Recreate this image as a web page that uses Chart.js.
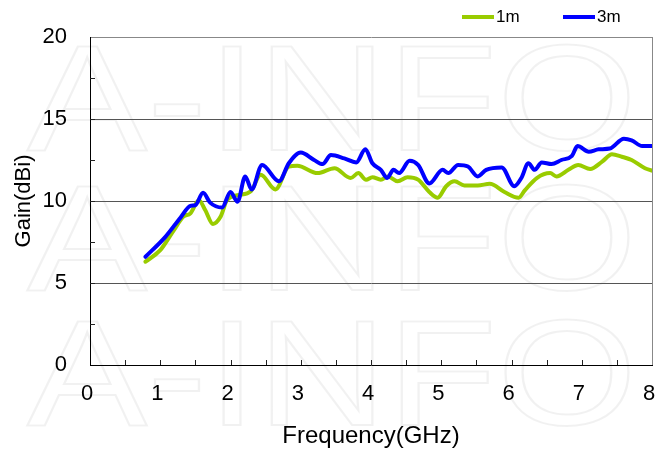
<!DOCTYPE html>
<html>
<head>
<meta charset="utf-8">
<script src="https://cdn.jsdelivr.net/npm/chart.js@4.4.1/dist/chart.umd.min.js"></script>
<style>
  html, body { margin: 0; padding: 0; background: #fff; }
  #wrap { width: 655px; height: 454px; }
</style>
</head>
<body>
<div id="wrap"><canvas id="chart-canvas" width="655" height="454"></canvas></div>
<script>
// data
const seriesNames = ['1m', '3m'];
const seriesColors = ['#99cc00', '#0000ff'];

const freq1m = [0.79, 1.0, 1.19, 1.33, 1.43, 1.55, 1.64, 1.75, 1.86, 1.95, 2.1, 2.29, 2.43, 2.64, 2.83, 2.95,
    3.24, 3.48, 3.71, 3.82, 3.93, 4.02, 4.14, 4.24, 4.38, 4.52, 4.67, 4.83, 4.95, 5.07, 5.19, 5.33, 5.52,
    5.69, 5.9, 6.1, 6.19, 6.36, 6.55, 6.64, 6.81, 6.95, 7.12, 7.29, 7.43, 7.57, 7.71, 7.9, 8.0];
const gain1m = [6.3, 7.0, 8.2, 9.05, 9.25, 10.05, 9.45, 8.6, 9.05, 10.05, 10.35, 10.6, 11.6, 10.7, 12.1, 12.15,
    11.7, 12.0, 11.4, 11.7, 11.3, 11.45, 11.3, 11.5, 11.2, 11.45, 11.3, 10.55, 10.2, 10.9, 11.2, 10.95, 10.95,
    11.05, 10.55, 10.2, 10.65, 11.4, 11.7, 11.5, 11.9, 12.2, 11.95, 12.4, 12.85, 12.7, 12.5, 12.0, 11.85];

const freq3m = [0.79, 1.07, 1.29, 1.43, 1.5, 1.61, 1.71, 1.88, 2.0, 2.1, 2.21, 2.3, 2.45, 2.69, 2.83, 3.0,
    3.19, 3.31, 3.43, 3.62, 3.79, 3.92, 4.02, 4.14, 4.23, 4.32, 4.4, 4.55, 4.67, 4.83, 5.02, 5.1, 5.24, 5.38,
    5.52, 5.64, 5.86, 6.04, 6.14, 6.24, 6.33, 6.43, 6.57, 6.71, 6.86, 6.94, 7.1, 7.24, 7.4, 7.6, 7.71, 7.86, 8.0];
const gain3m = [6.6, 7.8, 9.0, 9.7, 9.75, 10.5, 9.9, 9.6, 10.55, 9.95, 11.5, 10.7, 12.2, 11.2, 12.3, 12.95,
    12.5, 12.25, 12.8, 12.6, 12.35, 13.15, 12.3, 11.9, 11.4, 11.9, 11.7, 12.45, 12.2, 11.07, 11.9, 11.7, 12.2, 12.1,
    11.5, 11.9, 12.05, 10.9, 11.4, 12.3, 11.9, 12.35, 12.25, 12.5, 12.75, 13.35, 13.0, 13.15, 13.2, 13.8, 13.7, 13.35, 13.35];

const xTicks = [0, 1, 2, 3, 4, 5, 6, 7, 8];
const yTicks = [0, 5, 10, 15, 20];

const FONT = 'Liberation Sans, Arial, sans-serif';

function toPoints(xs, ys) {
    return xs.map((x, i) => ({ x: x, y: ys[i] }));
}

// faint "A-INFO" watermark behind everything
const watermark = {
    id: 'watermark',
    beforeDraw(chart) {
        const ctx = chart.ctx;
        ctx.save();
        ctx.strokeStyle = 'rgba(0,0,0,0.055)';
        ctx.lineWidth = 2;
        ctx.font = '150px ' + FONT;
        ctx.textAlign = 'center';
        [150, 290, 425].forEach(y => {
            ctx.save();
            ctx.translate(332, y);
            ctx.scale(1.2, 1);
            ctx.strokeText('A-INFO', 0, 0);
            ctx.restore();
        });
        ctx.restore();
    }
};

// small inward tick marks every half step
const innerTicks = {
    id: 'innerTicks',
    afterDatasetsDraw(chart) {
        const ctx = chart.ctx;
        const xs = chart.scales.x, ys = chart.scales.y;
        const a = chart.chartArea;
        ctx.save();
        ctx.strokeStyle = '#222';
        ctx.lineWidth = 1;
        ctx.beginPath();
        for (let v = 0.5; v < 8; v += 0.5) {
            const px = Math.round(xs.getPixelForValue(v)) + 0.5;
            ctx.moveTo(px, a.bottom);
            ctx.lineTo(px, a.bottom - 5);
        }
        for (let v = 2.5; v < 20; v += 2.5) {
            const py = Math.round(ys.getPixelForValue(v)) + 0.5;
            ctx.moveTo(a.left, py);
            ctx.lineTo(a.left + 5, py);
        }
        ctx.stroke();
        ctx.restore();
    }
};

// legend: short line + label, top right
const lineLegend = {
    id: 'lineLegend',
    afterDraw(chart) {
        const ctx = chart.ctx;
        const starts = [462, 563];
        ctx.save();
        ctx.font = '17px ' + FONT;
        ctx.textBaseline = 'middle';
        ctx.fillStyle = '#000';
        chart.data.datasets.forEach((ds, i) => {
            const x0 = starts[i];
            ctx.strokeStyle = ds.borderColor;
            ctx.lineWidth = 4;
            ctx.beginPath();
            ctx.moveTo(x0, 17);
            ctx.lineTo(x0 + 32, 17);
            ctx.stroke();
            ctx.fillText(ds.label, x0 + 34, 17);
        });
        ctx.restore();
    }
};

const data = {
    datasets: [
        {
            label: seriesNames[0],
            data: toPoints(freq1m, gain1m),
            borderColor: seriesColors[0],
            backgroundColor: seriesColors[0],
            order: 1
        },
        {
            label: seriesNames[1],
            data: toPoints(freq3m, gain3m),
            borderColor: seriesColors[1],
            backgroundColor: seriesColors[1],
            order: 0
        }
    ]
};

const config = {
    type: 'line',
    data: data,
    options: {
        responsive: false,
        animation: false,
        layout: { padding: { top: 37, right: 3, left: 0, bottom: 0 } },
        elements: {
            point: { radius: 0 },
            line: { borderWidth: 4, cubicInterpolationMode: 'monotone', borderCapStyle: 'round' }
        },
        scales: {
            x: {
                type: 'linear',
                min: 0,
                max: 8,
                afterFit: s => { s.height = 89; s.paddingLeft = 0; s.paddingRight = 0; },
                afterBuildTicks: s => { s.ticks = xTicks.map(v => ({ value: v })); },
                ticks: {
                    color: '#000',
                    padding: 16,
                    labelOffset: -3,
                    font: { family: FONT, size: 22 },
                    maxRotation: 0
                },
                grid: {
                    drawTicks: false,
                    color: c => (c.tick && c.tick.value === 8) ? '#888' : 'rgba(0,0,0,0)'
                },
                border: { color: '#000', width: 1 },
                title: {
                    display: true,
                    text: 'Frequency(GHz)',
                    color: '#000',
                    font: { family: FONT, size: 24 },
                    padding: { top: 0, bottom: 3 }
                }
            },
            y: {
                min: 0,
                max: 20,
                afterFit: s => { s.width = 90; s.paddingTop = 0; s.paddingBottom = 0; },
                afterBuildTicks: s => { s.ticks = yTicks.map(v => ({ value: v })); },
                ticks: {
                    color: '#000',
                    padding: 23,
                    font: { family: FONT, size: 22 }
                },
                grid: {
                    drawTicks: false,
                    color: c => {
                        const v = c.tick ? c.tick.value : 0;
                        if (v === 20) return '#888';
                        if (v === 0) return 'rgba(0,0,0,0)';
                        return '#555';
                    }
                },
                border: { color: '#000', width: 1 },
                title: {
                    display: true,
                    text: 'Gain(dBi)',
                    color: '#000',
                    font: { family: FONT, size: 22 },
                    padding: { top: 11, bottom: 0 }
                }
            }
        },
        plugins: {
            legend: { display: false },
            tooltip: { enabled: false }
        }
    },
    plugins: [watermark, innerTicks, lineLegend]
};

const ctx = document.getElementById('chart-canvas').getContext('2d');
const myLineChart = new Chart(ctx, config);
</script>
</body>
</html>
